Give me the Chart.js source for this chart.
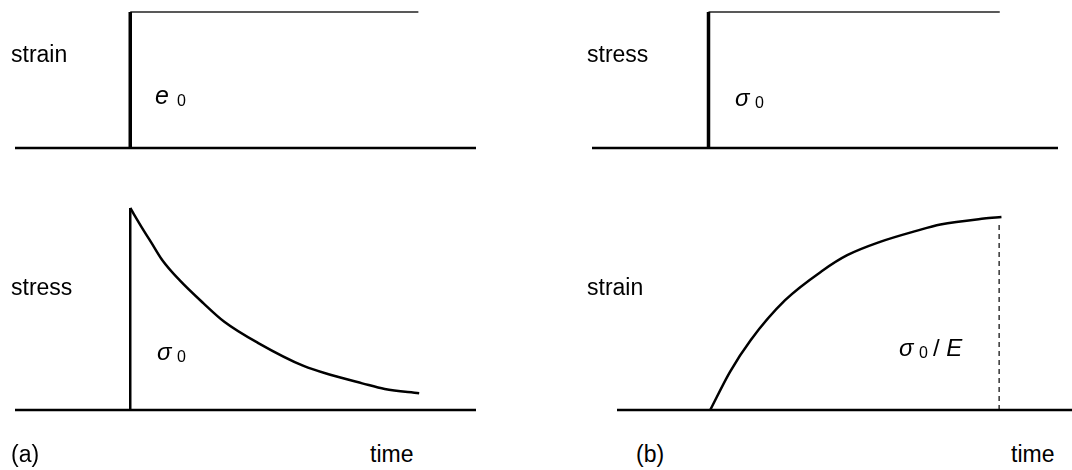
<!DOCTYPE html>
<html>
<head>
<meta charset="utf-8">
<script src="https://cdn.jsdelivr.net/npm/chart.js@4/dist/chart.umd.min.js"></script>
<style>
  html, body { margin: 0; padding: 0; background: #fff; }
  body { width: 1072px; height: 470px; position: relative; overflow: hidden; }
  .panel { position: absolute; }
  .lbl { position: absolute; font-family: "Liberation Sans", Arial, sans-serif; color: #000; line-height: 1; white-space: nowrap; }
  .it { font-style: italic; }
</style>
</head>
<body>
<div class="panel" id="pTL"><canvas id="cTL"></canvas></div>
<div class="panel" id="pTR"><canvas id="cTR"></canvas></div>
<div class="panel" id="pBL"><canvas id="cBL"></canvas></div>
<div class="panel" id="pBR"><canvas id="cBR"></canvas></div>

<script>
// time axis ranges (arbitrary units, load applied at t = 0)
const leftTime = [-1, 3];
const creepTime = [-0.8, 3.2];
const loadEnd = 2.5;

// step input: strain step e0 (a), stress step sigma0 (b)
const stepLevel = 1;

// (a) stress relaxation, sigma / sigma0
const relaxT = [0, 0.097, 0.187, 0.277, 0.426, 0.636, 0.816, 1.115, 1.504, 1.744, 2.013, 2.208, 2.507];
const relaxS = [1, 0.907, 0.825, 0.743, 0.644, 0.528, 0.437, 0.330, 0.218, 0.173, 0.132, 0.104, 0.083];

// (b) creep, strain relative to sigma0 / E
const creepT = [0, 0.170, 0.347, 0.643, 0.969, 1.176, 1.458, 1.769, 1.976, 2.35, 2.5];
const creepE = [0, 0.198, 0.362, 0.569, 0.724, 0.802, 0.871, 0.928, 0.961, 0.992, 1.0];
const creepMarkT = 2.48;
const creepMarkTop = 0.967;

const PAD = 8;

function pts(xs, ys) {
  return xs.map((x, i) => ({ x: x, y: ys[i] }));
}

function line(data, width, extra) {
  return Object.assign({
    data: data,
    showLine: true,
    borderColor: '#000',
    borderWidth: width,
    pointRadius: 0,
    tension: 0,
    clip: false,
    borderCapStyle: 'butt'
  }, extra || {});
}

function curve(data) {
  return line(data, 2.5, { cubicInterpolationMode: 'monotone', borderJoinStyle: 'round' });
}

function makePanel(id, canvasId, area, range, datasets) {
  const box = document.getElementById(id);
  const w = area.w + 2 * PAD, h = area.h + 2 * PAD;
  box.style.left = (area.x - PAD) + 'px';
  box.style.top = (area.y - PAD) + 'px';
  box.style.width = w + 'px';
  box.style.height = h + 'px';
  const cv = document.getElementById(canvasId);
  cv.width = w; cv.height = h;
  cv.style.width = w + 'px'; cv.style.height = h + 'px';
  return new Chart(cv.getContext('2d'), {
    type: 'scatter',
    data: { datasets: datasets },
    options: {
      responsive: false,
      animation: false,
      devicePixelRatio: 1,
      layout: { padding: PAD },
      plugins: { legend: { display: false }, tooltip: { enabled: false } },
      scales: {
        x: { type: 'linear', min: range[0], max: range[1], display: false },
        y: { type: 'linear', min: 0, max: 1, display: false }
      }
    }
  });
}

function axisLine(range) {
  return line(pts(range, [0, 0]), 2.5);
}

// top left: applied strain step
makePanel('pTL', 'cTL', { x: 15, y: 12, w: 461, h: 136 }, leftTime, [
  axisLine(leftTime),
  line(pts([0, 0], [0, stepLevel]), 3.5),
  line(pts([0, loadEnd], [stepLevel, stepLevel]), 1.3, { borderColor: '#222' })
]);

// top right: applied stress step
makePanel('pTR', 'cTR', { x: 592, y: 12, w: 466, h: 136 }, leftTime, [
  axisLine(leftTime),
  line(pts([0, 0], [0, stepLevel]), 3.5),
  line(pts([0, loadEnd], [stepLevel, stepLevel]), 1.3, { borderColor: '#222' })
]);

// bottom left: stress relaxation
makePanel('pBL', 'cBL', { x: 15, y: 208, w: 461, h: 202 }, leftTime, [
  axisLine(leftTime),
  line(pts([0, 0], [0, relaxS[0]]), 2.5),
  curve(pts(relaxT, relaxS))
]);

// bottom right: creep, dashed mark at the limiting strain
makePanel('pBR', 'cBR', { x: 617, y: 217, w: 466, h: 193 }, creepTime, [
  axisLine(creepTime),
  curve(pts(creepT, creepE)),
  line(pts([creepMarkT, creepMarkT], [0, creepMarkTop]), 1.2, { borderDash: [5, 4] })
]);

// text, positioned by left edge and baseline
function label(html, x, base, size, cls) {
  const d = document.createElement('div');
  d.className = 'lbl' + (cls ? ' ' + cls : '');
  d.style.fontSize = size + 'px';
  d.style.left = x + 'px';
  d.style.top = (base - 0.8465 * size) + 'px';
  d.innerHTML = html;
  document.body.appendChild(d);
}

label('strain', 11, 62, 23);
label('e', 155, 104, 25, 'it');
label('0', 177, 107, 16);

label('stress', 587, 62, 23);
label('σ', 735, 106, 24, 'it');
label('0', 755, 109, 16);

label('stress', 11, 295, 23);
label('σ', 157, 360, 24, 'it');
label('0', 177, 363, 16);

label('strain', 587, 295, 23);
label('σ', 899, 356, 24, 'it');
label('0', 919, 359, 16);
label('/ <i>E</i>', 933, 356, 24);

label('(a)', 11, 462, 23);
label('time', 370, 462, 23);
label('(b)', 636, 462, 23);
label('time', 1011, 462, 23);
</script>
</body>
</html>
